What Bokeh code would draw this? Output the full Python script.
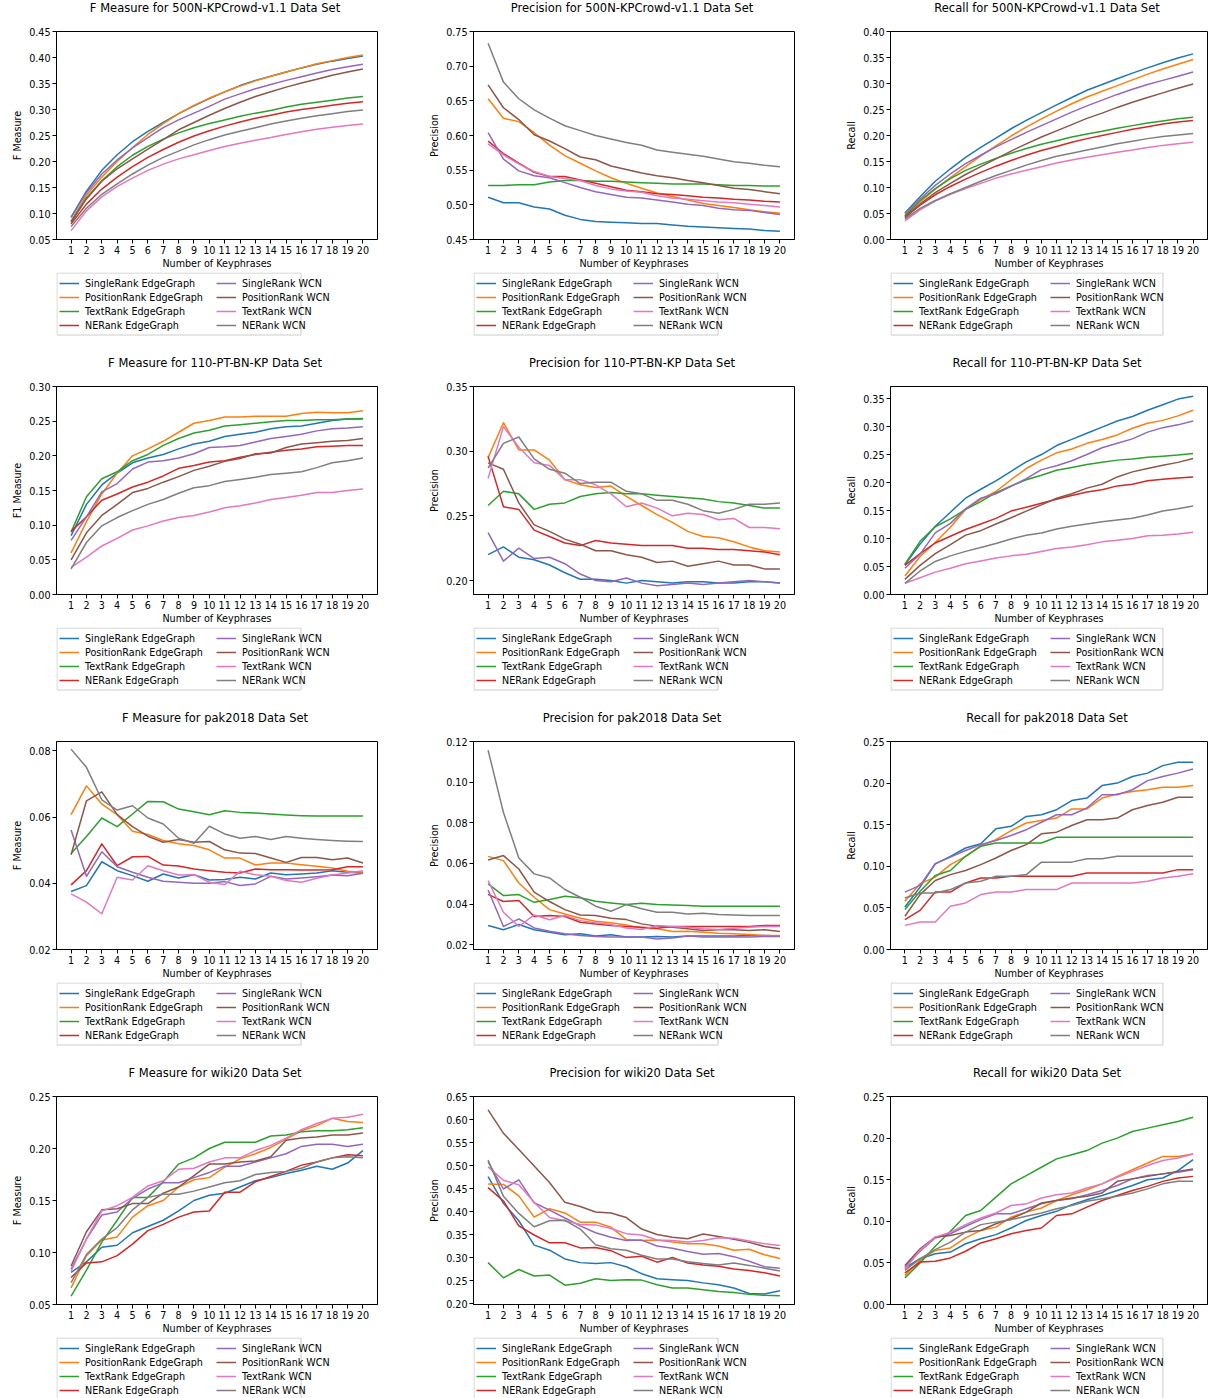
from bokeh.plotting import figure
from bokeh.models import Range1d, FixedTicker, NumeralTickFormatter, Legend, LegendItem
from bokeh.layouts import column, row
from bokeh.embed import file_html
from bokeh.resources import INLINE

X = list(range(1, 21))
SERIES = ["SingleRank EdgeGraph", "PositionRank EdgeGraph", "TextRank EdgeGraph", "NERank EdgeGraph",
          "SingleRank WCN", "PositionRank WCN", "TextRank WCN", "NERank WCN"]
COLORS = ["#1f77b4", "#ff7f0e", "#2ca02c", "#d62728", "#9467bd", "#8c564b", "#e377c2", "#7f7f7f"]

# ---------------- 500N-KPCrowd-v1.1 ----------------
kp_f = {
    "SingleRank EdgeGraph": [0.093, 0.143, 0.183, 0.213, 0.238, 0.258, 0.275, 0.292, 0.307, 0.321, 0.334, 0.346, 0.356, 0.364, 0.372, 0.380, 0.387, 0.393, 0.398, 0.403],
    "PositionRank EdgeGraph": [0.085, 0.135, 0.170, 0.200, 0.227, 0.252, 0.273, 0.292, 0.308, 0.322, 0.334, 0.345, 0.355, 0.364, 0.372, 0.380, 0.388, 0.394, 0.400, 0.405],
    "TextRank EdgeGraph": [0.085, 0.130, 0.163, 0.190, 0.212, 0.229, 0.243, 0.255, 0.265, 0.273, 0.280, 0.287, 0.293, 0.298, 0.305, 0.310, 0.314, 0.318, 0.322, 0.325],
    "NERank EdgeGraph": [0.080, 0.118, 0.147, 0.170, 0.190, 0.208, 0.223, 0.237, 0.249, 0.259, 0.268, 0.276, 0.283, 0.289, 0.295, 0.300, 0.304, 0.308, 0.312, 0.315],
    "SingleRank WCN": [0.092, 0.140, 0.176, 0.203, 0.226, 0.246, 0.265, 0.280, 0.293, 0.306, 0.320, 0.330, 0.340, 0.348, 0.356, 0.363, 0.370, 0.377, 0.382, 0.387],
    "PositionRank WCN": [0.083, 0.128, 0.162, 0.186, 0.205, 0.224, 0.242, 0.261, 0.275, 0.289, 0.302, 0.314, 0.325, 0.334, 0.343, 0.351, 0.358, 0.366, 0.372, 0.378],
    "TextRank WCN": [0.067, 0.105, 0.132, 0.152, 0.168, 0.183, 0.195, 0.205, 0.213, 0.221, 0.229, 0.235, 0.241, 0.246, 0.252, 0.257, 0.262, 0.266, 0.269, 0.272],
    "NERank WCN": [0.075, 0.110, 0.137, 0.157, 0.176, 0.193, 0.208, 0.220, 0.232, 0.242, 0.251, 0.258, 0.265, 0.272, 0.278, 0.283, 0.288, 0.292, 0.296, 0.299],
}
kp_p = {
    "SingleRank EdgeGraph": [0.511, 0.503, 0.503, 0.497, 0.494, 0.485, 0.479, 0.476, 0.475, 0.474, 0.473, 0.473, 0.471, 0.469, 0.468, 0.467, 0.466, 0.465, 0.463, 0.462],
    "PositionRank EdgeGraph": [0.653, 0.625, 0.620, 0.604, 0.586, 0.571, 0.560, 0.549, 0.539, 0.531, 0.524, 0.517, 0.512, 0.507, 0.502, 0.499, 0.496, 0.493, 0.490, 0.488],
    "TextRank EdgeGraph": [0.528, 0.528, 0.529, 0.529, 0.533, 0.535, 0.535, 0.534, 0.534, 0.533, 0.532, 0.531, 0.530, 0.530, 0.530, 0.529, 0.528, 0.528, 0.527, 0.527],
    "NERank EdgeGraph": [0.592, 0.574, 0.560, 0.547, 0.541, 0.541, 0.536, 0.531, 0.526, 0.521, 0.519, 0.516, 0.515, 0.513, 0.511, 0.510, 0.508, 0.507, 0.505, 0.504],
    "SingleRank WCN": [0.604, 0.566, 0.549, 0.542, 0.539, 0.532, 0.525, 0.519, 0.515, 0.511, 0.510, 0.507, 0.504, 0.501, 0.499, 0.495, 0.493, 0.492, 0.489, 0.486],
    "PositionRank WCN": [0.673, 0.640, 0.623, 0.601, 0.592, 0.581, 0.569, 0.565, 0.556, 0.551, 0.546, 0.542, 0.539, 0.535, 0.532, 0.528, 0.524, 0.522, 0.519, 0.516],
    "TextRank WCN": [0.588, 0.572, 0.559, 0.548, 0.541, 0.538, 0.535, 0.528, 0.523, 0.520, 0.518, 0.513, 0.510, 0.508, 0.506, 0.504, 0.503, 0.501, 0.499, 0.497],
    "NERank WCN": [0.733, 0.677, 0.653, 0.637, 0.625, 0.614, 0.607, 0.600, 0.595, 0.590, 0.586, 0.579, 0.576, 0.573, 0.570, 0.566, 0.562, 0.560, 0.557, 0.555],
}
kp_r = {
    "SingleRank EdgeGraph": [0.051, 0.082, 0.112, 0.136, 0.158, 0.177, 0.195, 0.213, 0.229, 0.244, 0.259, 0.273, 0.287, 0.298, 0.309, 0.320, 0.330, 0.340, 0.349, 0.357],
    "PositionRank EdgeGraph": [0.045, 0.072, 0.097, 0.119, 0.140, 0.161, 0.180, 0.199, 0.216, 0.232, 0.247, 0.261, 0.274, 0.285, 0.296, 0.307, 0.318, 0.328, 0.337, 0.346],
    "TextRank EdgeGraph": [0.046, 0.075, 0.098, 0.117, 0.133, 0.145, 0.156, 0.166, 0.175, 0.183, 0.190, 0.197, 0.203, 0.208, 0.214, 0.219, 0.224, 0.228, 0.232, 0.235],
    "NERank EdgeGraph": [0.042, 0.066, 0.086, 0.102, 0.116, 0.129, 0.141, 0.152, 0.162, 0.171, 0.179, 0.187, 0.194, 0.200, 0.206, 0.212, 0.217, 0.222, 0.226, 0.229],
    "SingleRank WCN": [0.050, 0.078, 0.104, 0.126, 0.146, 0.162, 0.178, 0.192, 0.206, 0.219, 0.232, 0.245, 0.257, 0.268, 0.279, 0.289, 0.298, 0.306, 0.314, 0.322],
    "PositionRank WCN": [0.044, 0.068, 0.090, 0.108, 0.125, 0.140, 0.155, 0.170, 0.184, 0.197, 0.209, 0.221, 0.233, 0.243, 0.254, 0.264, 0.273, 0.282, 0.291, 0.299],
    "TextRank WCN": [0.036, 0.057, 0.074, 0.087, 0.098, 0.108, 0.118, 0.126, 0.133, 0.140, 0.147, 0.153, 0.158, 0.163, 0.168, 0.172, 0.177, 0.181, 0.184, 0.187],
    "NERank WCN": [0.039, 0.060, 0.075, 0.088, 0.100, 0.112, 0.123, 0.133, 0.143, 0.152, 0.160, 0.166, 0.172, 0.178, 0.184, 0.189, 0.194, 0.198, 0.201, 0.204],
}

# ---------------- 110-PT-BN-KP ----------------
pt_f = {
    "SingleRank EdgeGraph": [0.085, 0.130, 0.158, 0.175, 0.190, 0.197, 0.202, 0.210, 0.217, 0.221, 0.228, 0.231, 0.234, 0.239, 0.242, 0.243, 0.247, 0.251, 0.253, 0.253],
    "PositionRank EdgeGraph": [0.060, 0.105, 0.145, 0.175, 0.200, 0.210, 0.221, 0.234, 0.247, 0.251, 0.256, 0.256, 0.257, 0.257, 0.257, 0.261, 0.263, 0.262, 0.262, 0.265],
    "TextRank EdgeGraph": [0.090, 0.141, 0.167, 0.177, 0.193, 0.202, 0.215, 0.225, 0.233, 0.237, 0.243, 0.245, 0.247, 0.249, 0.251, 0.251, 0.252, 0.252, 0.253, 0.254],
    "NERank EdgeGraph": [0.091, 0.112, 0.136, 0.145, 0.155, 0.162, 0.171, 0.182, 0.186, 0.191, 0.193, 0.198, 0.202, 0.205, 0.208, 0.210, 0.213, 0.214, 0.215, 0.215],
    "SingleRank WCN": [0.078, 0.112, 0.148, 0.160, 0.181, 0.191, 0.193, 0.197, 0.203, 0.212, 0.213, 0.215, 0.220, 0.225, 0.228, 0.231, 0.236, 0.239, 0.240, 0.242],
    "PositionRank WCN": [0.050, 0.089, 0.114, 0.130, 0.147, 0.153, 0.162, 0.170, 0.179, 0.185, 0.192, 0.196, 0.203, 0.204, 0.212, 0.217, 0.219, 0.221, 0.222, 0.225],
    "TextRank WCN": [0.039, 0.054, 0.070, 0.081, 0.093, 0.099, 0.106, 0.111, 0.114, 0.119, 0.125, 0.128, 0.132, 0.137, 0.140, 0.143, 0.147, 0.147, 0.150, 0.152],
    "NERank WCN": [0.037, 0.075, 0.099, 0.111, 0.121, 0.130, 0.137, 0.146, 0.154, 0.157, 0.163, 0.166, 0.169, 0.173, 0.175, 0.177, 0.183, 0.190, 0.193, 0.197],
}
pt_p = {
    "SingleRank EdgeGraph": [0.220, 0.226, 0.218, 0.216, 0.212, 0.206, 0.201, 0.201, 0.200, 0.198, 0.200, 0.199, 0.198, 0.199, 0.199, 0.198, 0.198, 0.199, 0.199, 0.198],
    "PositionRank EdgeGraph": [0.295, 0.322, 0.301, 0.301, 0.293, 0.278, 0.274, 0.272, 0.273, 0.265, 0.258, 0.251, 0.245, 0.238, 0.234, 0.233, 0.230, 0.226, 0.223, 0.222],
    "TextRank EdgeGraph": [0.258, 0.269, 0.267, 0.255, 0.259, 0.260, 0.265, 0.267, 0.268, 0.267, 0.267, 0.266, 0.265, 0.264, 0.263, 0.261, 0.260, 0.258, 0.256, 0.256],
    "NERank EdgeGraph": [0.296, 0.257, 0.255, 0.239, 0.234, 0.229, 0.227, 0.231, 0.229, 0.228, 0.227, 0.227, 0.227, 0.225, 0.225, 0.224, 0.224, 0.223, 0.222, 0.220],
    "SingleRank WCN": [0.237, 0.215, 0.225, 0.217, 0.218, 0.213, 0.205, 0.200, 0.199, 0.202, 0.198, 0.196, 0.197, 0.198, 0.197, 0.198, 0.199, 0.200, 0.199, 0.198],
    "PositionRank WCN": [0.291, 0.286, 0.260, 0.243, 0.238, 0.232, 0.228, 0.223, 0.223, 0.220, 0.218, 0.214, 0.215, 0.211, 0.213, 0.215, 0.212, 0.212, 0.209, 0.209],
    "TextRank WCN": [0.279, 0.319, 0.303, 0.291, 0.289, 0.278, 0.278, 0.274, 0.267, 0.257, 0.260, 0.256, 0.250, 0.252, 0.251, 0.247, 0.248, 0.241, 0.241, 0.240],
    "NERank WCN": [0.287, 0.306, 0.311, 0.294, 0.286, 0.283, 0.275, 0.276, 0.276, 0.269, 0.267, 0.262, 0.262, 0.259, 0.254, 0.252, 0.255, 0.259, 0.259, 0.260],
}
pt_r = {
    "SingleRank EdgeGraph": [0.053, 0.090, 0.122, 0.147, 0.172, 0.188, 0.203, 0.220, 0.237, 0.250, 0.266, 0.277, 0.288, 0.299, 0.310, 0.318, 0.329, 0.339, 0.349, 0.354],
    "PositionRank EdgeGraph": [0.033, 0.068, 0.093, 0.120, 0.152, 0.170, 0.184, 0.205, 0.225, 0.240, 0.253, 0.260, 0.270, 0.277, 0.285, 0.297, 0.306, 0.311, 0.319, 0.329],
    "TextRank EdgeGraph": [0.054, 0.095, 0.121, 0.135, 0.152, 0.166, 0.182, 0.194, 0.205, 0.213, 0.222, 0.227, 0.232, 0.236, 0.240, 0.242, 0.245, 0.247, 0.249, 0.252],
    "NERank EdgeGraph": [0.052, 0.073, 0.092, 0.104, 0.116, 0.126, 0.136, 0.149, 0.156, 0.163, 0.170, 0.177, 0.183, 0.187, 0.194, 0.197, 0.203, 0.206, 0.208, 0.210],
    "SingleRank WCN": [0.047, 0.072, 0.110, 0.127, 0.153, 0.172, 0.180, 0.193, 0.207, 0.223, 0.230, 0.239, 0.250, 0.262, 0.270, 0.278, 0.290, 0.298, 0.303, 0.310],
    "PositionRank WCN": [0.027, 0.052, 0.073, 0.089, 0.106, 0.114, 0.126, 0.137, 0.149, 0.160, 0.172, 0.180, 0.190, 0.197, 0.210, 0.219, 0.225, 0.231, 0.236, 0.243],
    "TextRank WCN": [0.020, 0.030, 0.040, 0.047, 0.055, 0.060, 0.065, 0.069, 0.072, 0.077, 0.082, 0.085, 0.089, 0.094, 0.097, 0.100, 0.105, 0.106, 0.108, 0.111],
    "NERank WCN": [0.020, 0.042, 0.059, 0.069, 0.077, 0.084, 0.091, 0.099, 0.106, 0.110, 0.117, 0.122, 0.126, 0.130, 0.133, 0.136, 0.142, 0.149, 0.153, 0.158],
}

# ---------------- pak2018 ----------------
pak_f = {
    "SingleRank EdgeGraph": [0.0375, 0.0393, 0.0465, 0.0438, 0.0423, 0.0406, 0.0428, 0.0416, 0.0426, 0.0410, 0.0411, 0.0418, 0.0413, 0.0431, 0.0426, 0.0428, 0.0431, 0.0438, 0.0433, 0.0431],
    "PositionRank EdgeGraph": [0.0607, 0.0694, 0.0639, 0.0607, 0.0557, 0.0547, 0.0529, 0.0519, 0.0514, 0.0501, 0.0476, 0.0476, 0.0455, 0.0461, 0.0461, 0.0456, 0.0451, 0.0446, 0.0436, 0.0433],
    "TextRank EdgeGraph": [0.0490, 0.0541, 0.0597, 0.0571, 0.0609, 0.0647, 0.0646, 0.0624, 0.0616, 0.0607, 0.0619, 0.0614, 0.0612, 0.0609, 0.0606, 0.0604, 0.0603, 0.0603, 0.0603, 0.0603],
    "NERank EdgeGraph": [0.0395, 0.0438, 0.0519, 0.0453, 0.0480, 0.0481, 0.0455, 0.0452, 0.0443, 0.0438, 0.0433, 0.0431, 0.0443, 0.0441, 0.0441, 0.0440, 0.0440, 0.0441, 0.0450, 0.0450],
    "SingleRank WCN": [0.0561, 0.0421, 0.0495, 0.0450, 0.0433, 0.0418, 0.0406, 0.0403, 0.0400, 0.0400, 0.0405, 0.0393, 0.0398, 0.0421, 0.0413, 0.0416, 0.0420, 0.0425, 0.0423, 0.0430],
    "PositionRank WCN": [0.0486, 0.0649, 0.0676, 0.0607, 0.0571, 0.0542, 0.0524, 0.0532, 0.0524, 0.0526, 0.0501, 0.0491, 0.0490, 0.0476, 0.0463, 0.0478, 0.0478, 0.0471, 0.0476, 0.0461],
    "TextRank WCN": [0.0368, 0.0343, 0.0308, 0.0418, 0.0410, 0.0453, 0.0438, 0.0425, 0.0426, 0.0403, 0.0396, 0.0436, 0.0426, 0.0421, 0.0408, 0.0403, 0.0415, 0.0425, 0.0431, 0.0438],
    "NERank WCN": [0.0805, 0.0750, 0.0652, 0.0621, 0.0634, 0.0597, 0.0579, 0.0536, 0.0521, 0.0572, 0.0549, 0.0536, 0.0541, 0.0532, 0.0541, 0.0536, 0.0532, 0.0529, 0.0527, 0.0526],
}
pak_p = {
    "SingleRank EdgeGraph": [0.0295, 0.0274, 0.0300, 0.0274, 0.0262, 0.0249, 0.0254, 0.0243, 0.0249, 0.0238, 0.0238, 0.0241, 0.0238, 0.0243, 0.0243, 0.0243, 0.0243, 0.0246, 0.0246, 0.0243],
    "PositionRank EdgeGraph": [0.0635, 0.0614, 0.0504, 0.0434, 0.0373, 0.0352, 0.0331, 0.0316, 0.0308, 0.0298, 0.0283, 0.0279, 0.0265, 0.0267, 0.0262, 0.0257, 0.0254, 0.0251, 0.0246, 0.0246],
    "TextRank EdgeGraph": [0.0500, 0.0442, 0.0447, 0.0409, 0.0423, 0.0439, 0.0431, 0.0414, 0.0406, 0.0398, 0.0405, 0.0398, 0.0396, 0.0393, 0.0390, 0.0390, 0.0390, 0.0390, 0.0390, 0.0390],
    "NERank EdgeGraph": [0.0448, 0.0413, 0.0418, 0.0339, 0.0344, 0.0339, 0.0311, 0.0303, 0.0295, 0.0290, 0.0287, 0.0282, 0.0290, 0.0290, 0.0290, 0.0290, 0.0290, 0.0290, 0.0295, 0.0295],
    "SingleRank WCN": [0.0470, 0.0290, 0.0328, 0.0283, 0.0267, 0.0254, 0.0246, 0.0241, 0.0238, 0.0238, 0.0238, 0.0229, 0.0233, 0.0243, 0.0238, 0.0238, 0.0238, 0.0238, 0.0241, 0.0241],
    "PositionRank WCN": [0.0617, 0.0639, 0.0573, 0.0459, 0.0413, 0.0373, 0.0347, 0.0344, 0.0331, 0.0324, 0.0303, 0.0292, 0.0287, 0.0279, 0.0270, 0.0274, 0.0274, 0.0270, 0.0274, 0.0265],
    "TextRank WCN": [0.0516, 0.0360, 0.0290, 0.0347, 0.0323, 0.0344, 0.0319, 0.0308, 0.0300, 0.0283, 0.0275, 0.0295, 0.0290, 0.0287, 0.0279, 0.0275, 0.0282, 0.0287, 0.0290, 0.0290],
    "NERank WCN": [0.1157, 0.0851, 0.0627, 0.0549, 0.0529, 0.0472, 0.0434, 0.0390, 0.0365, 0.0398, 0.0377, 0.0360, 0.0360, 0.0352, 0.0355, 0.0349, 0.0347, 0.0344, 0.0344, 0.0344],
}
pak_r = {
    "SingleRank EdgeGraph": [0.051, 0.075, 0.103, 0.112, 0.122, 0.127, 0.145, 0.148, 0.160, 0.162, 0.168, 0.179, 0.182, 0.197, 0.200, 0.208, 0.212, 0.221, 0.225, 0.225],
    "PositionRank EdgeGraph": [0.058, 0.079, 0.087, 0.102, 0.112, 0.125, 0.132, 0.143, 0.152, 0.155, 0.158, 0.169, 0.169, 0.182, 0.187, 0.190, 0.192, 0.195, 0.195, 0.197],
    "TextRank EdgeGraph": [0.048, 0.070, 0.089, 0.095, 0.112, 0.124, 0.128, 0.128, 0.128, 0.128, 0.135, 0.135, 0.135, 0.135, 0.135, 0.135, 0.135, 0.135, 0.135, 0.135],
    "NERank EdgeGraph": [0.036, 0.047, 0.069, 0.069, 0.080, 0.086, 0.086, 0.088, 0.088, 0.088, 0.088, 0.088, 0.092, 0.092, 0.092, 0.092, 0.092, 0.092, 0.096, 0.096],
    "SingleRank WCN": [0.069, 0.077, 0.103, 0.111, 0.119, 0.126, 0.131, 0.137, 0.144, 0.153, 0.162, 0.162, 0.170, 0.186, 0.186, 0.192, 0.203, 0.208, 0.212, 0.217],
    "PositionRank WCN": [0.040, 0.066, 0.083, 0.090, 0.095, 0.102, 0.110, 0.119, 0.126, 0.139, 0.141, 0.149, 0.156, 0.156, 0.158, 0.168, 0.173, 0.177, 0.183, 0.183],
    "TextRank WCN": [0.029, 0.033, 0.033, 0.052, 0.056, 0.066, 0.069, 0.069, 0.072, 0.072, 0.072, 0.080, 0.080, 0.080, 0.080, 0.080, 0.082, 0.086, 0.088, 0.091],
    "NERank WCN": [0.062, 0.068, 0.068, 0.072, 0.080, 0.082, 0.088, 0.088, 0.090, 0.105, 0.105, 0.105, 0.109, 0.109, 0.112, 0.112, 0.112, 0.112, 0.112, 0.112],
}

# ---------------- wiki20 ----------------
wiki_f = {
    "SingleRank EdgeGraph": [0.081, 0.091, 0.105, 0.107, 0.119, 0.125, 0.131, 0.140, 0.150, 0.155, 0.157, 0.163, 0.169, 0.172, 0.176, 0.179, 0.183, 0.180, 0.186, 0.198],
    "PositionRank EdgeGraph": [0.066, 0.097, 0.112, 0.115, 0.134, 0.145, 0.150, 0.163, 0.170, 0.172, 0.182, 0.190, 0.195, 0.201, 0.209, 0.217, 0.222, 0.229, 0.226, 0.225],
    "TextRank EdgeGraph": [0.058, 0.083, 0.110, 0.131, 0.153, 0.153, 0.168, 0.185, 0.191, 0.200, 0.206, 0.206, 0.206, 0.212, 0.213, 0.216, 0.217, 0.217, 0.218, 0.220],
    "NERank EdgeGraph": [0.076, 0.090, 0.091, 0.097, 0.108, 0.121, 0.127, 0.134, 0.139, 0.140, 0.158, 0.158, 0.168, 0.173, 0.178, 0.184, 0.187, 0.191, 0.194, 0.193],
    "SingleRank WCN": [0.084, 0.113, 0.136, 0.139, 0.152, 0.161, 0.167, 0.167, 0.172, 0.177, 0.183, 0.183, 0.187, 0.191, 0.195, 0.202, 0.204, 0.204, 0.202, 0.204],
    "PositionRank WCN": [0.087, 0.120, 0.141, 0.142, 0.147, 0.147, 0.157, 0.163, 0.174, 0.185, 0.185, 0.187, 0.188, 0.192, 0.208, 0.210, 0.211, 0.213, 0.213, 0.215],
    "TextRank WCN": [0.082, 0.113, 0.140, 0.145, 0.153, 0.164, 0.169, 0.180, 0.181, 0.187, 0.191, 0.191, 0.198, 0.203, 0.210, 0.218, 0.224, 0.229, 0.230, 0.233],
    "NERank WCN": [0.071, 0.098, 0.113, 0.124, 0.141, 0.153, 0.156, 0.156, 0.159, 0.163, 0.167, 0.169, 0.175, 0.177, 0.178, 0.181, 0.187, 0.191, 0.192, 0.191],
}
wiki_p = {
    "SingleRank EdgeGraph": [0.476, 0.418, 0.380, 0.327, 0.316, 0.297, 0.289, 0.287, 0.289, 0.280, 0.265, 0.254, 0.252, 0.250, 0.245, 0.241, 0.234, 0.222, 0.221, 0.228],
    "PositionRank EdgeGraph": [0.460, 0.459, 0.434, 0.388, 0.406, 0.397, 0.377, 0.377, 0.366, 0.339, 0.337, 0.338, 0.334, 0.330, 0.330, 0.325, 0.316, 0.318, 0.306, 0.298],
    "TextRank EdgeGraph": [0.289, 0.256, 0.274, 0.260, 0.262, 0.240, 0.244, 0.254, 0.250, 0.252, 0.251, 0.241, 0.234, 0.234, 0.230, 0.226, 0.224, 0.220, 0.218, 0.217],
    "NERank EdgeGraph": [0.452, 0.423, 0.369, 0.349, 0.332, 0.332, 0.321, 0.322, 0.315, 0.300, 0.303, 0.290, 0.300, 0.288, 0.284, 0.281, 0.275, 0.272, 0.267, 0.260],
    "SingleRank WCN": [0.508, 0.449, 0.469, 0.419, 0.403, 0.386, 0.369, 0.354, 0.344, 0.337, 0.338, 0.325, 0.320, 0.313, 0.307, 0.309, 0.302, 0.292, 0.280, 0.277],
    "PositionRank WCN": [0.621, 0.570, 0.535, 0.499, 0.463, 0.420, 0.411, 0.399, 0.397, 0.387, 0.362, 0.350, 0.344, 0.341, 0.351, 0.346, 0.340, 0.333, 0.324, 0.319],
    "TextRank WCN": [0.497, 0.468, 0.458, 0.420, 0.387, 0.380, 0.372, 0.371, 0.363, 0.352, 0.349, 0.338, 0.337, 0.334, 0.337, 0.343, 0.342, 0.336, 0.330, 0.326],
    "NERank WCN": [0.512, 0.433, 0.396, 0.367, 0.380, 0.381, 0.362, 0.328, 0.319, 0.316, 0.305, 0.297, 0.297, 0.291, 0.287, 0.284, 0.288, 0.283, 0.277, 0.271],
}
wiki_r = {
    "SingleRank EdgeGraph": [0.044, 0.055, 0.061, 0.063, 0.073, 0.079, 0.084, 0.092, 0.101, 0.107, 0.112, 0.120, 0.126, 0.131, 0.137, 0.143, 0.150, 0.152, 0.161, 0.174],
    "PositionRank EdgeGraph": [0.035, 0.053, 0.065, 0.068, 0.080, 0.089, 0.093, 0.105, 0.111, 0.116, 0.125, 0.132, 0.138, 0.145, 0.154, 0.162, 0.170, 0.178, 0.178, 0.181],
    "TextRank EdgeGraph": [0.032, 0.050, 0.070, 0.088, 0.107, 0.113, 0.129, 0.145, 0.155, 0.165, 0.175, 0.180, 0.185, 0.194, 0.200, 0.208, 0.212, 0.216, 0.220, 0.225],
    "NERank EdgeGraph": [0.038, 0.051, 0.052, 0.056, 0.064, 0.074, 0.079, 0.085, 0.089, 0.092, 0.107, 0.109, 0.117, 0.125, 0.131, 0.137, 0.142, 0.148, 0.152, 0.154],
    "SingleRank WCN": [0.045, 0.064, 0.080, 0.085, 0.094, 0.102, 0.109, 0.109, 0.115, 0.121, 0.125, 0.127, 0.132, 0.137, 0.143, 0.151, 0.155, 0.157, 0.159, 0.162],
    "PositionRank WCN": [0.047, 0.067, 0.081, 0.083, 0.087, 0.089, 0.097, 0.103, 0.111, 0.122, 0.125, 0.128, 0.130, 0.134, 0.148, 0.151, 0.154, 0.157, 0.160, 0.163],
    "TextRank WCN": [0.043, 0.065, 0.081, 0.087, 0.096, 0.104, 0.110, 0.119, 0.121, 0.128, 0.132, 0.134, 0.140, 0.145, 0.153, 0.160, 0.167, 0.173, 0.176, 0.181],
    "NERank WCN": [0.041, 0.055, 0.066, 0.075, 0.087, 0.096, 0.099, 0.102, 0.106, 0.110, 0.115, 0.119, 0.124, 0.127, 0.130, 0.134, 0.139, 0.145, 0.148, 0.148],
}

PANELS = [
    ("F Measure for 500N-KPCrowd-v1.1 Data Set", "F Measure", kp_f, 0.05, 0.45, [0.05, 0.10, 0.15, 0.20, 0.25, 0.30, 0.35, 0.40, 0.45]),
    ("Precision for 500N-KPCrowd-v1.1 Data Set", "Precision", kp_p, 0.45, 0.75, [0.45, 0.50, 0.55, 0.60, 0.65, 0.70, 0.75]),
    ("Recall for 500N-KPCrowd-v1.1 Data Set", "Recall", kp_r, 0.0, 0.40, [0.0, 0.05, 0.10, 0.15, 0.20, 0.25, 0.30, 0.35, 0.40]),
    ("F Measure for 110-PT-BN-KP Data Set", "F1 Measure", pt_f, 0.0, 0.30, [0.0, 0.05, 0.10, 0.15, 0.20, 0.25, 0.30]),
    ("Precision for 110-PT-BN-KP Data Set", "Precision", pt_p, 0.1892, 0.35, [0.20, 0.25, 0.30, 0.35]),
    ("Recall for 110-PT-BN-KP Data Set", "Recall", pt_r, 0.0, 0.3715, [0.0, 0.05, 0.10, 0.15, 0.20, 0.25, 0.30, 0.35]),
    ("F Measure for pak2018 Data Set", "F Measure", pak_f, 0.02, 0.0828, [0.02, 0.04, 0.06, 0.08]),
    ("Precision for pak2018 Data Set", "Precision", pak_p, 0.0177, 0.12, [0.02, 0.04, 0.06, 0.08, 0.10, 0.12]),
    ("Recall for pak2018 Data Set", "Recall", pak_r, 0.0, 0.25, [0.0, 0.05, 0.10, 0.15, 0.20, 0.25]),
    ("F Measure for wiki20 Data Set", "F Measure", wiki_f, 0.05, 0.25, [0.05, 0.10, 0.15, 0.20, 0.25]),
    ("Precision for wiki20 Data Set", "Precision", wiki_p, 0.198, 0.65, [0.20, 0.25, 0.30, 0.35, 0.40, 0.45, 0.50, 0.55, 0.60, 0.65]),
    ("Recall for wiki20 Data Set", "Recall", wiki_r, 0.0, 0.25, [0.0, 0.05, 0.10, 0.15, 0.20, 0.25]),
]

FONT = "DejaVu Sans"
SMALL = "9.6px"

# layout constants (pixels)
COL_W = [417, 417, 376]
FRAME_W = [321, 321, 317]
FRAME_H = 208
TITLE_H = 19
B_LEFT, B_TOP, B_BOTTOM = 52, 12, 33
LEG_LEFT = 56          # legend box left edge within a cell
LEG_H_ROW = [83, 83, 83, 61]
LEG_BOX_W, LEG_BOX_H = 279, 62
LEG_COL1 = 3
LEG_COL2 = 160
LEG_RAISE = 3


def make_title(title, col):
    tf = figure(width=COL_W[col], height=TITLE_H, title=title,
                x_axis_type=None, y_axis_type=None,
                output_backend="svg", toolbar_location=None,
                min_border_left=B_LEFT, min_border_right=COL_W[col] - B_LEFT - FRAME_W[col],
                min_border_top=0, min_border_bottom=0)
    tf.outline_line_color = None
    tf.title.align = "center"
    tf.title.vertical_align = "top"
    tf.title.standoff = 0
    tf.title.text_font = FONT
    tf.title.text_font_size = "11.5px"
    tf.title.text_font_style = "normal"
    tf.title.text_color = "black"
    return tf


def make_panel(ylabel, data, ylo, yhi, yticks, col):
    p = figure(frame_width=FRAME_W[col], frame_height=FRAME_H, title=None,
               x_range=Range1d(0.05, 20.95), y_range=Range1d(ylo, yhi),
               output_backend="svg", toolbar_location=None,
               min_border_left=B_LEFT, min_border_right=COL_W[col] - B_LEFT - FRAME_W[col],
               min_border_top=B_TOP, min_border_bottom=B_BOTTOM)
    p.xaxis.ticker = FixedTicker(ticks=X)
    p.yaxis.ticker = FixedTicker(ticks=yticks)
    p.yaxis.formatter = NumeralTickFormatter(format="0.00")
    p.xaxis.axis_label = "Number of Keyphrases"
    p.yaxis.axis_label = ylabel
    for ax in (p.xaxis[0], p.yaxis[0]):
        ax.major_tick_out = 4
        ax.major_tick_in = 0
        ax.minor_tick_out = 0
        ax.minor_tick_in = 0
        ax.major_label_text_font = FONT
        ax.major_label_text_font_size = SMALL
        ax.major_label_text_color = "black"
        ax.axis_label_text_font = FONT
        ax.axis_label_text_font_size = SMALL
        ax.axis_label_text_font_style = "normal"
        ax.axis_label_text_color = "black"
        ax.major_label_standoff = 2
        ax.axis_line_color = "black"
        ax.major_tick_line_color = "black"
    p.xaxis[0].axis_label_standoff = 1
    p.yaxis[0].axis_label_standoff = 3
    p.xgrid.visible = False
    p.ygrid.visible = False
    p.outline_line_color = "black"
    p.outline_line_alpha = 1.0
    p.outline_line_width = 1

    for name, color in zip(SERIES, COLORS):
        p.line(X, data[name], line_color=color, line_width=1.5, line_join="round")
    return p


def make_legend(data, col, height):
    fw = COL_W[col] - LEG_LEFT
    lf = figure(width=COL_W[col], height=height, title=None,
                x_range=Range1d(0, fw), y_range=Range1d(0, height),
                x_axis_type=None, y_axis_type=None,
                output_backend="svg", toolbar_location=None,
                min_border_left=LEG_LEFT, min_border_right=0, min_border_top=0, min_border_bottom=0)
    lf.outline_line_color = None
    lf.extra_y_ranges = {"hidden": Range1d(10, 11)}
    # legend frame
    lf.quad(left=0.5, right=LEG_BOX_W - 0.5, top=height - 0.5, bottom=height - LEG_BOX_H - 0.5,
            fill_color="white", line_color="#cccccc", line_width=1)
    items = []
    for name, color in zip(SERIES, COLORS):
        r = lf.line(X, data[name], line_color=color, line_width=1.5, y_range_name="hidden")
        items.append(LegendItem(label=name, renderers=[r]))
    common = dict(label_text_font=FONT, label_text_font_size=SMALL, label_text_color="black",
                  glyph_width=20, glyph_height=12, label_height=12, label_standoff=6,
                  spacing=2, padding=4, margin=0,
                  border_line_color=None, background_fill_alpha=0.0)
    ly = height - LEG_BOX_H + LEG_RAISE
    lf.add_layout(Legend(items=items[:4], location=(LEG_COL1, ly), **common), "center")
    lf.add_layout(Legend(items=items[4:], location=(LEG_COL2, ly), **common), "center")
    return lf


rows = []
for r in range(4):
    cells = []
    for c in range(3):
        title, ylabel, data, ylo, yhi, yticks = PANELS[r * 3 + c]
        head = make_title(title, c)
        main = make_panel(ylabel, data, ylo, yhi, yticks, c)
        leg = make_legend(data, c, LEG_H_ROW[r])
        cells.append(column(head, main, leg))
    rows.append(row(*cells))
layout = column(*rows)

open("out.html", "w").write(file_html(layout, INLINE))
